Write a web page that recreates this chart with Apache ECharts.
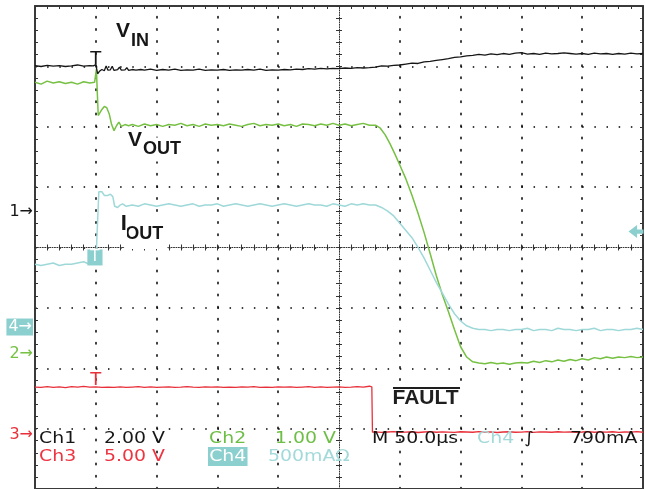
<!DOCTYPE html>
<html><head><meta charset="utf-8">
<script src="https://cdn.jsdelivr.net/npm/echarts@6/dist/echarts.min.js"></script>
<style>html,body{margin:0;padding:0;background:#fff}#c{width:645px;height:489px}</style>
</head><body><div id="c"></div>
<script>
const timeMin = -50, timeMax = 450, timePerDiv = 50;

const vinData = [[-50,4.85],[-45,4.82],[-40,4.86],[-35,4.83],[-30,4.85],[-25,4.82],[-20,4.84],[-15,4.87],[-10,4.83],[-5,4.85],[-2,4.84],[0,4.88],[1.5,4.58],[3,4.66],[5,4.72],[7,4.68],[8.5,4.84],[10,4.70],[12,4.71],[13.5,4.83],[15,4.69],[18,4.72],[19.5,4.80],[21,4.70],[24,4.71],[25.5,4.78],[27,4.69],[30,4.72],[31.5,4.77],[33,4.70],[37,4.72],[40,4.70],[45,4.73],[50,4.69],[55,4.72],[60,4.70],[65,4.73],[70,4.69],[75,4.71],[80,4.70],[85,4.73],[90,4.69],[95,4.71],[100,4.70],[105,4.72],[110,4.69],[115,4.71],[120,4.70],[125,4.72],[130,4.70],[135,4.73],[140,4.69],[145,4.71],[150,4.70],[155,4.72],[160,4.71],[165,4.73],[170,4.72],[175,4.75],[180,4.73],[185,4.76],[190,4.74],[195,4.76],[200,4.75],[205,4.77],[210,4.76],[215,4.78],[220,4.77],[225,4.78],[230,4.80],[235,4.84],[240,4.83],[245,4.86],[250,4.87],[255,4.90],[260,4.93],[265,4.92],[270,4.97],[275,4.99],[280,5.02],[285,5.05],[290,5.08],[295,5.12],[300,5.14],[305,5.17],[310,5.19],[315,5.22],[320,5.20],[325,5.24],[330,5.21],[335,5.25],[340,5.22],[345,5.26],[350,5.28],[355,5.23],[360,5.25],[365,5.22],[370,5.26],[375,5.24],[380,5.25],[385,5.27],[390,5.25],[395,5.23],[400,5.25],[405,5.22],[410,5.26],[415,5.24],[420,5.25],[425,5.22],[430,5.25],[435,5.23],[440,5.26],[445,5.24],[450,5.25]];

const voutData = [[-50,4.50],[-45,4.47],[-40,4.52],[-35,4.49],[-30,4.51],[-25,4.48],[-20,4.50],[-15,4.47],[-10,4.51],[-5,4.49],[-1,4.50],[0,4.52],[0.5,4.72],[1,4.45],[2,3.95],[3.5,3.92],[5,4.05],[7,4.10],[9,4.08],[11,3.98],[13,3.80],[15,3.70],[17,3.78],[19,3.84],[21,3.77],[24,3.80],[27,3.78],[30,3.80],[35,3.77],[40,3.81],[45,3.78],[50,3.80],[55,3.77],[60,3.80],[65,3.79],[70,3.82],[75,3.78],[80,3.80],[85,3.77],[90,3.81],[95,3.79],[100,3.80],[105,3.78],[110,3.81],[115,3.79],[120,3.77],[125,3.80],[130,3.82],[135,3.78],[140,3.80],[145,3.79],[150,3.81],[155,3.78],[160,3.80],[165,3.77],[170,3.81],[175,3.80],[180,3.78],[185,3.81],[190,3.79],[195,3.82],[200,3.79],[205,3.81],[210,3.78],[215,3.80],[220,3.82],[225,3.79],[230,3.79],[234,3.74],[238,3.63],[242,3.48],[246,3.31],[250,3.13],[255,2.90],[260,2.63],[265,2.33],[270,2.01],[275,1.66],[280,1.30],[285,0.98],[290,0.70],[295,0.40],[300,0.12],[305,-0.05],[310,-0.13],[315,-0.15],[320,-0.16],[325,-0.14],[330,-0.16],[335,-0.15],[340,-0.17],[345,-0.15],[350,-0.14],[355,-0.15],[360,-0.12],[365,-0.14],[370,-0.11],[375,-0.13],[380,-0.10],[385,-0.12],[390,-0.09],[395,-0.11],[400,-0.08],[405,-0.10],[410,-0.06],[415,-0.08],[420,-0.05],[425,-0.07],[430,-0.05],[435,-0.06],[440,-0.04],[445,-0.06],[450,-0.05]];

const ioutData = [[-50,0.52],[-45,0.51],[-40,0.52],[-35,0.53],[-30,0.51],[-25,0.52],[-20,0.52],[-15,0.53],[-10,0.54],[-5,0.52],[0,0.52],[1.5,0.53],[2.5,1.12],[5,1.12],[7,1.09],[10,1.09],[12,1.10],[14,1.08],[15.5,1.00],[18,0.99],[20,1.01],[22,1.02],[25,1.00],[30,1.01],[35,1.00],[40,1.02],[45,1.01],[50,1.00],[55,1.01],[60,1.02],[65,1.01],[70,1.00],[75,1.01],[80,1.02],[85,1.00],[90,1.01],[95,1.01],[100,1.02],[105,1.00],[110,1.01],[115,1.02],[120,1.01],[125,1.00],[130,1.01],[135,1.02],[140,1.01],[145,1.00],[150,1.01],[155,1.02],[160,1.01],[165,1.00],[170,1.01],[175,1.02],[180,1.01],[185,1.01],[190,1.00],[195,1.02],[200,1.01],[205,1.00],[210,1.02],[215,1.01],[220,1.02],[225,1.01],[230,1.01],[235,0.99],[240,0.96],[245,0.92],[250,0.86],[255,0.80],[260,0.74],[265,0.66],[270,0.57],[275,0.47],[280,0.37],[285,0.28],[290,0.19],[295,0.11],[300,0.05],[305,0.01],[310,-0.01],[315,-0.02],[320,-0.02],[325,-0.03],[330,-0.02],[335,-0.02],[340,-0.03],[345,-0.02],[350,-0.02],[355,-0.01],[360,-0.03],[365,-0.02],[370,-0.02],[375,-0.03],[380,-0.01],[385,-0.02],[390,-0.02],[395,-0.03],[400,-0.02],[405,-0.02],[410,-0.01],[415,-0.03],[420,-0.02],[425,-0.02],[430,-0.03],[435,-0.02],[440,-0.02],[445,-0.01],[450,-0.02]];

const faultData = [[-50,3.93],[-45,3.90],[-40,3.96],[-35,3.91],[-30,3.94],[-25,3.89],[-20,3.97],[-15,3.92],[-10,3.99],[-5,3.93],[0,3.95],[5,3.90],[10,3.93],[15,3.91],[20,3.95],[25,3.90],[30,3.93],[35,3.96],[40,3.91],[45,3.94],[50,3.90],[55,3.93],[60,3.95],[65,3.91],[70,3.93],[75,3.96],[80,3.92],[85,3.90],[90,3.94],[95,3.92],[100,3.95],[105,3.91],[110,3.93],[115,3.90],[120,3.94],[125,3.92],[130,3.96],[135,3.91],[140,3.93],[145,3.90],[150,3.95],[155,3.92],[160,3.94],[165,3.90],[170,3.93],[175,3.96],[180,3.91],[185,3.94],[190,3.90],[195,3.93],[200,3.95],[205,3.91],[210,3.93],[215,3.97],[220,3.92],[225,4.00],[227,3.95],[227.5,0.20],[230,0.22],[235,0.18],[240,0.21],[245,0.24],[250,0.19],[255,0.20],[260,0.23],[265,0.17],[270,0.21],[275,0.25],[280,0.19],[285,0.22],[290,0.20],[295,0.18],[300,0.23],[305,0.21],[310,0.19],[315,0.24],[320,0.20],[325,0.22],[330,0.17],[335,0.21],[340,0.23],[345,0.19],[350,0.20],[355,0.24],[360,0.18],[365,0.22],[370,0.21],[375,0.19],[380,0.23],[385,0.20],[390,0.22],[395,0.18],[400,0.21],[405,0.25],[410,0.19],[415,0.22],[420,0.20],[425,0.23],[430,0.18],[435,0.21],[440,0.20],[445,0.24],[450,0.19]];

const triggerLevel = 0.79; // A on Ch4

const chSet = {
  ch1: {perDiv: 2,   ground: 0.588},
  ch2: {perDiv: 1,   ground: -1.764},
  ch3: {perDiv: 5,   ground: -3.098},
  ch4: {perDiv: 0.5, ground: -1.317}
};

const C_BLACK = '#161616', C_GREEN = '#76c043', C_CYAN = '#9fd8d8', C_CYANBOX = '#8ccfcf', C_RED = '#e8303a';
const PLOT_W = 608, H_DIVS = 10;

function chAxis(c) {
  return {type: 'value', show: false, min: (-4 - c.ground) * c.perDiv, max: (4 - c.ground) * c.perDiv};
}
const xBase = {type: 'value', min: timeMin, max: timeMax, interval: timePerDiv,
  axisLabel: {show: false}, splitLine: {show: false}, axisTick: {show: false}, axisLine: {show: false, onZero: false}};
const yBase = {type: 'value', min: -4, max: 4, interval: 1,
  axisLabel: {show: false}, splitLine: {show: false}, axisTick: {show: false}, axisLine: {show: false, onZero: false}};
const border = {show: true, onZero: false, lineStyle: {color: '#3a3a3a', width: 2}};
const tickIn = {show: true, inside: true, length: 3, lineStyle: {color: '#333', width: 1}};
const tickOut = {show: true, inside: false, length: 3, lineStyle: {color: '#333', width: 1}};
const minor = {show: true, splitNumber: 5, length: 3, lineStyle: {color: '#333', width: 1}};
const dotStyle = {color: '#000', width: 1.5};

// vertical dotted graticule lines, one helper axis per division (centre line handled separately)
const vGridAxes = [1, 2, 3, 4, 6, 7, 8, 9].map(function (k) {
  return Object.assign({}, yBase, {position: 'left', offset: -PLOT_W / H_DIVS * k,
    axisLine: {show: true, onZero: false, lineStyle: Object.assign({type: [1.5, 10.575]}, dotStyle)}});
});

const sans = 'Liberation Sans';
function txt(coord, text, size, color, extra) {
  return {coord: coord, symbolSize: 0, label: Object.assign({
    show: true, position: 'inside', align: 'left', verticalAlign: 'middle', formatter: text,
    color: color, fontFamily: sans, fontWeight: 'bold', fontSize: size,
    backgroundColor: '#fff', padding: [3, 1]}, extra || {})};
}
function groundMark(text, color, box) {
  return {coord: [timeMin, 0], symbolSize: 0, label: {show: true, position: 'left', distance: 2,
    formatter: text, color: box ? '#fff' : color, fontFamily: 'DejaVu Sans', fontSize: 16,
    backgroundColor: box ? color : 'transparent', padding: box ? [1, 1, 0, 2] : 0}};
}

const option = {
  animation: false,
  backgroundColor: '#fff',
  grid: {left: 35, right: 2, top: 6, bottom: 0, containLabel: false},
  xAxis: [
    Object.assign({}, xBase, {position: 'bottom', axisLine: border}),
    Object.assign({}, xBase, {position: 'top', axisLine: border, axisTick: tickIn, minorTick: minor}),
    Object.assign({}, xBase, {position: 'bottom', offset: -241.5,
      axisLine: {show: true, onZero: false, lineStyle: {color: '#333', width: 1, type: [1, 1.43]}},
      axisTick: tickIn, minorTick: minor}),
    Object.assign({}, xBase, {position: 'bottom', offset: -241.5, axisTick: tickOut, minorTick: minor})
  ],
  yAxis: [
    Object.assign({}, yBase, {position: 'left', axisLine: border, axisTick: tickIn, minorTick: minor,
      splitLine: {show: true, lineStyle: Object.assign({type: [1.5, 10.66]}, dotStyle)}}),
    Object.assign({}, yBase, {position: 'right', axisLine: border, axisTick: tickIn, minorTick: minor}),
    Object.assign({}, yBase, {position: 'left', offset: -304,
      axisLine: {show: true, onZero: false, lineStyle: {color: '#333', width: 1, type: [1, 1.415]}},
      axisTick: tickIn, minorTick: minor}),
    Object.assign({}, yBase, {position: 'left', offset: -304, axisTick: tickOut, minorTick: minor}),
    chAxis(chSet.ch1), chAxis(chSet.ch2), chAxis(chSet.ch3), chAxis(chSet.ch4)
  ].concat(vGridAxes),
  series: [
    {type: 'line', name: 'VIN', xAxisIndex: 0, yAxisIndex: 4, data: vinData, symbol: 'none',
      lineStyle: {color: C_BLACK, width: 1.3}, z: 4,
      markPoint: {silent: true, animation: false, data: [
        groundMark('1→', C_BLACK, false),
        {coord: [0, 5.05], symbolSize: 0, label: {show: true, position: 'inside', formatter: 'T',
          color: C_BLACK, fontFamily: 'DejaVu Sans', fontSize: 18}},
        txt([15.8, 5.98], 'V', 21, C_BLACK),
        txt([28.1, 5.68], 'IN', 18, C_BLACK)
      ]}},
    {type: 'line', name: 'VOUT', xAxisIndex: 0, yAxisIndex: 5, data: voutData, symbol: 'none',
      lineStyle: {color: C_GREEN, width: 1.5}, z: 3,
      markPoint: {silent: true, animation: false, data: [
        groundMark('2→', C_GREEN, false),
        txt([25.7, 3.536], 'V', 21, C_BLACK),
        txt([38.0, 3.387], 'OUT', 18, C_BLACK)
      ]}},
    {type: 'line', name: 'FAULT', xAxisIndex: 0, yAxisIndex: 6, data: faultData, symbol: 'none',
      lineStyle: {color: C_RED, width: 1.3}, z: 3,
      markPoint: {silent: true, animation: false, data: [
        groundMark('3→', C_RED, false),
        {coord: [0, 4.51], symbolSize: 0, label: {show: true, position: 'inside', formatter: 'T',
          color: C_RED, fontFamily: 'DejaVu Sans', fontSize: 18}},
        txt([239.9, 2.98], 'FAULT', 21, '#1e1e1e', {padding: [6, 5]})
      ]},
      markLine: {silent: true, animation: false, z: 10, symbol: ['none', 'none'], label: {show: false},
        lineStyle: {color: '#1e1e1e', width: 2, type: 'solid'},
        data: [[{coord: [244.4, 3.85]}, {coord: [299.5, 3.85]}]]}},
    {type: 'line', name: 'IOUT', xAxisIndex: 0, yAxisIndex: 7, data: ioutData, symbol: 'none',
      lineStyle: {color: C_CYAN, width: 1.5}, z: 3,
      markPoint: {silent: true, animation: false, data: [
        groundMark('4→', C_CYANBOX, true),
        {coord: [-0.7, 0.576], symbolSize: 0, label: {show: true, position: 'inside', formatter: 'T',
          color: '#fff', fontFamily: 'DejaVu Sans', fontSize: 15, backgroundColor: C_CYANBOX, padding: [1, 3, 0, 3]}},
        txt([23.3, 0.766], 'OUT', 18, C_BLACK, {padding: [3, 4, 8, 1]}),
        txt([20.6, 0.853], 'I', 22, C_BLACK, {padding: [3, 0]}),
        {coord: [timeMax, triggerLevel], symbol: 'path://M0,6L8,0L8,4L14,4L14,8L8,8L8,12Z',
          symbolSize: [15, 13], symbolOffset: [-7, 0], itemStyle: {color: C_CYANBOX}, label: {show: false}}
      ]}}
  ],
  graphic: (function () {
    const f = '16px "DejaVu Sans"';
    const row1 = 438.5, row2 = 456.5, sx = 1.18;
    const items = [
      ['Ch1', 39, row1, C_BLACK], ['2.00 V', 104, row1, C_BLACK],
      ['Ch2', 209, row1, '#6dbe45'], ['1.00 V', 275, row1, '#6dbe45'],
      ['M 50.0µs', 372, row1, C_BLACK], ['Ch4', 477, row1, '#a3d9d9'],
      ['∫', 524, row1, C_BLACK], ['790mA', 570, row1, C_BLACK],
      ['Ch3', 39, row2, '#ee3440'], ['5.00 V', 104, row2, '#ee3440'],
      ['500mAΩ', 268, row2, '#a3d9d9']
    ];
    const out = items.map(function (it) {
      return {type: 'text', x: it[1], y: it[2], scaleX: sx, z: 100,
        style: {text: it[0], fill: it[3], font: f, verticalAlign: 'middle', align: 'left'}};
    });
    out.push({type: 'text', x: 208, y: row2, scaleX: sx, z: 100,
      style: {text: 'Ch4', fill: '#fff', font: f, verticalAlign: 'middle', align: 'left',
        backgroundColor: C_CYANBOX, padding: [2, 1, 1, 1]}});
    return out;
  })()
};

const chart = echarts.init(document.getElementById('c'), null, {renderer: 'canvas'});
chart.setOption(option);
</script>
</body></html>
